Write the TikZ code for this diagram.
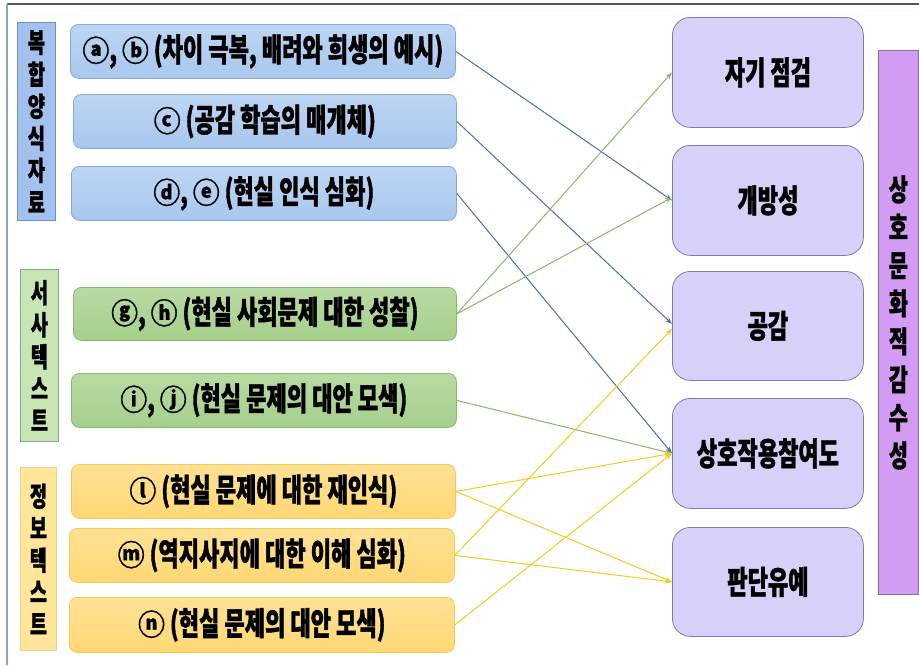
\documentclass[tikz,border=0pt]{standalone}
\usepackage{fontspec}
\newfontfamily\kr[FakeStretch=0.69,FakeBold=1.2]{Noto Sans CJK KR}
\newfontfamily\krc[FakeStretch=0.92,FakeBold=1.0]{Noto Sans CJK KR}
\newcommand{\cl}[1]{{\krc\bfseries\fontsize{29}{30}\selectfont #1}}
\usetikzlibrary{arrows.meta}
\definecolor{frameA}{HTML}{4A5878}
\definecolor{frameB}{HTML}{8EA2C8}
\definecolor{bluefill}{HTML}{A9C7EE}
\definecolor{bluetop}{HTML}{BCD5F3}
\definecolor{blueline}{HTML}{86A9D8}
\definecolor{greenfill}{HTML}{A6CF8C}
\definecolor{greentop}{HTML}{B8DAA2}
\definecolor{greenline}{HTML}{88B872}
\definecolor{yelfill}{HTML}{FFD874}
\definecolor{yeltop}{HTML}{FFE195}
\definecolor{yelline}{HTML}{F3CA5A}
\definecolor{lblblue}{HTML}{A2C1EE}
\definecolor{lblblueline}{HTML}{6F90C2}
\definecolor{lblgreen}{HTML}{C7E6B4}
\definecolor{lblgreenline}{HTML}{7FAE8C}
\definecolor{lblyel}{HTML}{FFE69A}
\definecolor{lblyelline}{HTML}{F0D27E}
\definecolor{purfill}{HTML}{D5D1F8}
\definecolor{purline}{HTML}{8576B2}
\definecolor{barfill}{HTML}{D29CF5}
\definecolor{barline}{HTML}{8C6C9E}
\definecolor{arrblue}{HTML}{4E6EA6}
\definecolor{arrgreen}{HTML}{8DB56A}
\definecolor{arryel}{HTML}{F1CD1A}
\tikzset{
  x=1pt, y=-1pt,
  srcbox/.style={rounded corners=8pt, inner sep=0pt, anchor=north west, line width=0.8pt,
    font=\kr\bfseries\fontsize{32}{34}\selectfont, minimum width=385pt, minimum height=54pt},
  bluebox/.style={srcbox, draw=blueline, top color=bluetop, bottom color=bluefill},
  greenbox/.style={srcbox, draw=greenline, top color=greentop, bottom color=greenfill},
  yelbox/.style={srcbox, draw=yelline, top color=yeltop, bottom color=yelfill},
  lbl/.style={inner sep=0pt, anchor=north west, line width=0.8pt, align=center,
    font=\kr\bfseries\fontsize{27}{32}\selectfont, minimum width=38pt},
  tgt/.style={rounded corners=18pt, inner sep=0pt, anchor=north west, line width=0.8pt,
    draw=purline, fill=purfill, minimum width=191pt, minimum height=110pt,
    font=\kr\bfseries\fontsize{32}{34}\selectfont},
  conn/.style={line width=1pt, -{Stealth[length=7pt,width=5pt]}},
}
\begin{document}
\begin{tikzpicture}
\useasboundingbox (0,0) rectangle (919,665);
\fill[white] (0,0) rectangle (919,665);
% frame
\draw[frameA, line width=1.2pt] (7,4) -- (919,4);
\draw[frameB, line width=1.6pt] (7,4) -- (7,665);

% left category labels
\node[lbl, draw=lblblueline, fill=lblblue, minimum height=198pt] (la) at (17,22) {복\\합\\양\\식\\자\\료};
\node[lbl, draw=lblgreenline, fill=lblgreen, minimum height=172pt] (lb) at (20,269) {서\\사\\텍\\스\\트};
\node[lbl, draw=lblyelline, fill=lblyel, minimum height=183pt, minimum width=36pt] (lc) at (20,467) {정\\보\\텍\\스\\트};

% source boxes
\node[bluebox, minimum width=385pt] (s1) at (70,24) {\cl{ⓐ}, \cl{ⓑ} (차이 극복, 배려와 희생의 예시)};
\node[bluebox, minimum width=383pt] (s2) at (73,94) {\cl{ⓒ} (공감 학습의 매개체)};
\node[bluebox] (s3) at (71,166) {\cl{ⓓ}, \cl{ⓔ} (현실 인식 심화)};
\node[greenbox, minimum width=383pt, minimum height=53pt] (s4) at (73,287) {\cl{ⓖ}, \cl{ⓗ} (현실 사회문제 대한 성찰)};
\node[greenbox] (s5) at (71,373) {\cl{ⓘ}, \cl{ⓙ} (현실 문제의 대안 모색)};
\node[yelbox, minimum width=384pt] (s6) at (71,464) {\cl{ⓛ} (현실 문제에 대한 재인식)};
\node[yelbox] (s7) at (69,528) {\cl{ⓜ} (역지사지에 대한 이해 심화)};
\node[yelbox, minimum height=55pt] (s8) at (69,597) {\cl{ⓝ} (현실 문제의 대안 모색)};

% target boxes
\node[tgt] (t1) at (672,17) {자기 점검};
\node[tgt] (t2) at (672,145) {개방성};
\node[tgt, minimum height=109pt] (t3) at (672,271) {공감};
\node[tgt] (t4) at (672,398) {상호작용참여도};
\node[tgt, minimum height=109pt] (t5) at (672,527) {판단유예};

% vertical bar
\node[inner sep=0pt, anchor=north west, draw=barline, fill=barfill, line width=0.8pt,
  minimum width=40pt, minimum height=544pt, align=center,
  font=\kr\bfseries\fontsize{30}{38}\selectfont] (bar) at (878,50) {상\\호\\문\\화\\적\\감\\수\\성};

% connectors
\draw[conn, arrblue] (s1.east) -- (t2.west);
\draw[conn, arrblue] (s2.east) -- ([yshift=2pt]t3.west);
\draw[conn, arrblue] (s3.east) -- (t4.west);
\draw[conn, arrgreen] (s4.east) -- (t1.west);
\draw[conn, arrgreen] (s4.east) -- ([yshift=3pt]t2.west);
\draw[conn, arrgreen] (s5.east) -- (t4.west);
\draw[conn, arryel] (s6.east) -- (t4.west);
\draw[conn, arryel] (s6.east) -- (t5.west);
\draw[conn, arryel] (s7.east) -- ([yshift=-3pt]t3.west);
\draw[conn, arryel] (s7.east) -- (t5.west);
\draw[conn, arryel] (s8.east) -- (t4.west);
\end{tikzpicture}
\end{document}
